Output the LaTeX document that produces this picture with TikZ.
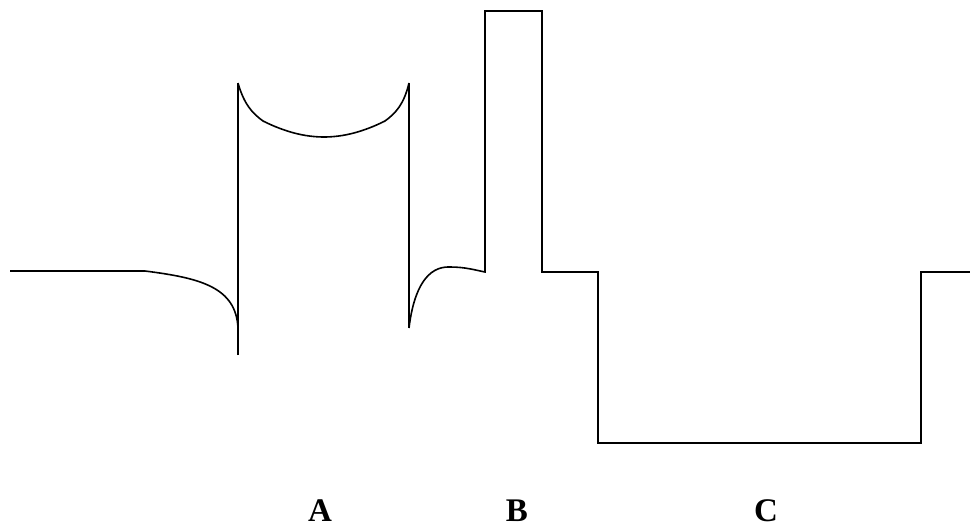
\documentclass[tikz,border=0pt]{standalone}
\usepackage{fontspec}
\setmainfont{Liberation Serif}
\begin{document}
\begin{tikzpicture}[x=1pt,y=-1pt,
  trace/.style={line width=1.6pt,line join=miter},
  lbl/.style={anchor=base,inner sep=0pt,font=\fontsize{33}{36}\selectfont\bfseries}]
\useasboundingbox (0,0) rectangle (970,527);
% left baseline and dip into A
\draw[trace] (10,271) -- (145,271) .. controls (200,278) and (236,287) .. (238,328);
% left vertical of A
\draw[trace] (238,355) -- (238,83);
% top concave curve of A
\draw[trace] (238,83) .. controls (244,104) and (252,113) .. (263,121)
  .. controls (285,132) and (305,137) .. (324,137)
  .. controls (343,137) and (363,132) .. (385,121)
  .. controls (396,113) and (404,104) .. (409,83);
% right vertical of A
\draw[trace] (409,83) -- (409,328);
% recovery to B and rest of trace
\draw[trace] (409,328) .. controls (414,287) and (428,266) .. (450,267)
  .. controls (465,267) and (475,270) .. (485,272)
  -- (485,11) -- (542,11) -- (542,272) -- (598,272) -- (598,443)
  -- (921,443) -- (921,272) -- (970,272);
% labels
\node[lbl] (A) at (320,521) {A};
\node[lbl] (B) at (517,521) {B};
\node[lbl] (C) at (766,521) {C};
\end{tikzpicture}
\end{document}
